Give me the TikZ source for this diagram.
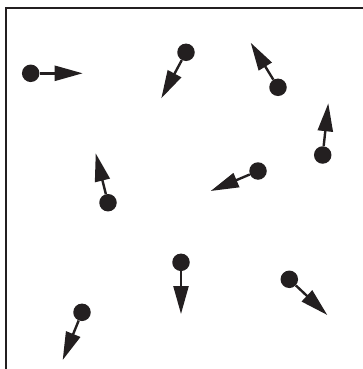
\documentclass[tikz,border=0pt]{standalone}
\usepackage{xcolor}
\definecolor{ink}{HTML}{231F20}
\usepackage{tikz}
\usetikzlibrary{arrows.meta}
\tikzset{
    particle/.style={circle, fill=ink, draw=none, inner sep=0pt, minimum size=17.5pt},
    velocity/.style={-{Triangle[length=28pt, width=15pt]}, line width=2.4pt, draw=ink, fill=ink},
    frame/.style={draw=ink, line width=2.2pt}
}
\begin{document}
\begin{tikzpicture}[x=1pt, y=-1pt]
  \useasboundingbox (0,0) rectangle (363,369);

  % Container walls
  \draw[frame] (6,369) -- (6,8) -- (363,8);

  % Particles
  \node[particle] (p1) at (30.7,73.3) {};
  \node[particle] (p2) at (186,52.3) {};
  \node[particle] (p3) at (278,87.3) {};
  \node[particle] (p4) at (322.7,155) {};
  \node[particle] (p5) at (258,171) {};
  \node[particle] (p6) at (108,202.7) {};
  \node[particle] (p7) at (181,262.3) {};
  \node[particle] (p8) at (289.3,279.3) {};
  \node[particle] (p9) at (82,312.3) {};

  % Velocity ends
  \coordinate (v1) at (82.7,73.3);
  \coordinate (v2) at (161.3,98.3);
  \coordinate (v3) at (250.7,42.7);
  \coordinate (v4) at (328.3,103.3);
  \coordinate (v5) at (210.7,191);
  \coordinate (v6) at (95.7,153.3);
  \coordinate (v7) at (181,314);
  \coordinate (v8) at (327.3,315);
  \coordinate (v9) at (62.7,360);

  % Velocity vectors
  \draw[velocity] (p1) -- (v1);
  \draw[velocity] (p2) -- (v2);
  \draw[velocity] (p3) -- (v3);
  \draw[velocity] (p4) -- (v4);
  \draw[velocity] (p5) -- (v5);
  \draw[velocity] (p6) -- (v6);
  \draw[velocity] (p7) -- (v7);
  \draw[velocity] (p8) -- (v8);
  \draw[velocity] (p9) -- (v9);
\end{tikzpicture}
\end{document}
